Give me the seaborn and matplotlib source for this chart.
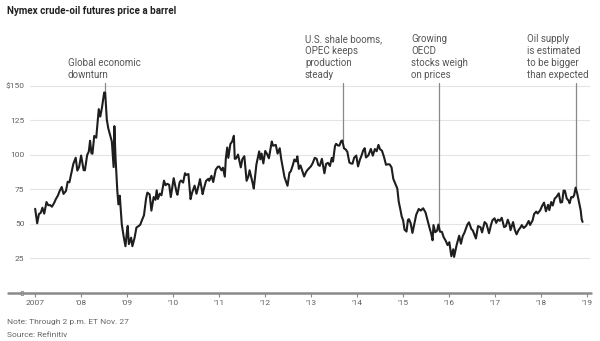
import matplotlib
matplotlib.use("Agg")
import matplotlib.pyplot as plt
from matplotlib.lines import Line2D
import seaborn as sns
import pandas as pd

# ---------------- data ----------------
dates = [
    "2007-01-02", "2007-01-18", "2007-02-01", "2007-02-15", "2007-03-01", "2007-03-15", "2007-04-02", "2007-04-16",
    "2007-05-01", "2007-05-15", "2007-06-01", "2007-06-15", "2007-07-02", "2007-07-16", "2007-08-01", "2007-08-15",
    "2007-09-04", "2007-09-17", "2007-10-01", "2007-10-15", "2007-11-01", "2007-11-20", "2007-12-03", "2007-12-17",
    "2008-01-02", "2008-01-22", "2008-02-01", "2008-02-19", "2008-03-03", "2008-03-13", "2008-03-24", "2008-04-01",
    "2008-04-15", "2008-05-01", "2008-05-21", "2008-06-02", "2008-06-16", "2008-07-03", "2008-07-11", "2008-07-24",
    "2008-08-05", "2008-08-19", "2008-09-02", "2008-09-16", "2008-09-22", "2008-10-01", "2008-10-15", "2008-10-24",
    "2008-11-04", "2008-11-20", "2008-12-05", "2008-12-19", "2008-12-31",
    "2009-01-06", "2009-01-15", "2009-02-02", "2009-02-12", "2009-03-02", "2009-03-16", "2009-04-01", "2009-04-15",
    "2009-05-01", "2009-05-15", "2009-06-01", "2009-06-11", "2009-06-29", "2009-07-13", "2009-07-31", "2009-08-14",
    "2009-08-24", "2009-09-02", "2009-09-18", "2009-10-01", "2009-10-21", "2009-11-02", "2009-11-16", "2009-12-01",
    "2009-12-14", "2009-12-31",
    "2010-01-06", "2010-01-29", "2010-02-05", "2010-02-22", "2010-03-05", "2010-03-22", "2010-04-06", "2010-04-15",
    "2010-05-03", "2010-05-20", "2010-06-01", "2010-06-21", "2010-07-06", "2010-07-26", "2010-08-03", "2010-08-24",
    "2010-09-01", "2010-09-20", "2010-10-08", "2010-10-15", "2010-11-02", "2010-11-16", "2010-12-06", "2010-12-23",
    "2011-01-03", "2011-01-20", "2011-02-01", "2011-02-16", "2011-02-24", "2011-03-07", "2011-03-16", "2011-04-01",
    "2011-04-15", "2011-04-29", "2011-05-06", "2011-05-16", "2011-06-01", "2011-06-23", "2011-07-05", "2011-07-21",
    "2011-08-08", "2011-08-22", "2011-09-01", "2011-09-26", "2011-10-04", "2011-10-25", "2011-11-16", "2011-11-25",
    "2011-12-05", "2011-12-19",
    "2012-01-03", "2012-01-18", "2012-02-01", "2012-02-24", "2012-03-05", "2012-03-27", "2012-04-10", "2012-04-27",
    "2012-05-09", "2012-05-23", "2012-06-04", "2012-06-28", "2012-07-13", "2012-07-24", "2012-08-10", "2012-08-21",
    "2012-09-04", "2012-09-14", "2012-09-26", "2012-10-09", "2012-11-07", "2012-11-21", "2012-12-03", "2012-12-31",
    "2013-01-14", "2013-01-30", "2013-02-14", "2013-02-27", "2013-03-11", "2013-03-28", "2013-04-17", "2013-04-30",
    "2013-05-15", "2013-05-31", "2013-06-14", "2013-06-24", "2013-07-10", "2013-07-19", "2013-08-02", "2013-08-14",
    "2013-08-28", "2013-09-06", "2013-09-20", "2013-10-02", "2013-10-16", "2013-11-01", "2013-11-14", "2013-11-26",
    "2013-12-09", "2013-12-26",
    "2014-01-09", "2014-01-24", "2014-02-07", "2014-02-19", "2014-03-03", "2014-03-13", "2014-04-01", "2014-04-21",
    "2014-05-06", "2014-05-23", "2014-06-06", "2014-06-20", "2014-07-03", "2014-07-18", "2014-08-04", "2014-08-19",
    "2014-09-05", "2014-09-18", "2014-10-02", "2014-10-16", "2014-11-03", "2014-11-17", "2014-11-28", "2014-12-10",
    "2014-12-22",
    "2015-01-02", "2015-01-13", "2015-01-29", "2015-02-09", "2015-02-17", "2015-03-03", "2015-03-17", "2015-04-01",
    "2015-04-16", "2015-05-06", "2015-05-22", "2015-06-10", "2015-06-29", "2015-07-14", "2015-07-31", "2015-08-12",
    "2015-08-24", "2015-08-31", "2015-09-14", "2015-09-29", "2015-10-09", "2015-10-22", "2015-11-06", "2015-11-20",
    "2015-12-07", "2015-12-21",
    "2016-01-04", "2016-01-20", "2016-02-04", "2016-02-11", "2016-03-01", "2016-03-22", "2016-04-05", "2016-04-19",
    "2016-05-03", "2016-05-26", "2016-06-08", "2016-06-27", "2016-07-08", "2016-08-02", "2016-08-19", "2016-09-08",
    "2016-09-20", "2016-10-10", "2016-10-25", "2016-11-14", "2016-11-30", "2016-12-12", "2016-12-28",
    "2017-01-10", "2017-01-24", "2017-02-08", "2017-02-23", "2017-03-14", "2017-03-28", "2017-04-12", "2017-04-26",
    "2017-05-04", "2017-05-24", "2017-06-07", "2017-06-21", "2017-07-06", "2017-07-25", "2017-08-01", "2017-08-17",
    "2017-09-05", "2017-09-25", "2017-10-06", "2017-10-26", "2017-11-07", "2017-11-24", "2017-12-05", "2017-12-26",
    "2018-01-09", "2018-01-25", "2018-02-09", "2018-02-26", "2018-03-08", "2018-03-23", "2018-04-04", "2018-04-19",
    "2018-05-04", "2018-05-22", "2018-06-05", "2018-06-18", "2018-06-29", "2018-07-10", "2018-07-24", "2018-08-08",
    "2018-08-16", "2018-08-29", "2018-09-11", "2018-09-21", "2018-10-03", "2018-10-16", "2018-10-31", "2018-11-12",
    "2018-11-20", "2018-11-27",
]
prices = [
    61.0, 50.5, 57.3, 58.0, 61.8, 57.5, 65.9, 63.6,
    63.7, 62.5, 65.1, 68.0, 70.7, 74.0, 76.8, 71.8,
    74.0, 80.6, 80.2, 86.1, 93.5, 98.0, 88.7, 91.3,
    99.6, 89.0, 88.9, 100.0, 102.5, 110.3, 101.2, 100.9,
    113.8, 112.5, 133.2, 127.8, 134.6, 145.3, 145.1, 125.5,
    119.2, 114.5, 109.7, 91.2, 120.9, 98.5, 74.5, 64.2,
    70.5, 49.6, 40.8, 33.9, 44.6,
    48.6, 35.4, 40.1, 33.9, 40.2, 47.4, 48.4, 49.4,
    53.2, 56.3, 68.6, 72.7, 71.5, 59.7, 69.5, 67.5,
    74.4, 68.1, 72.0, 70.8, 81.4, 78.1, 79.1, 78.4,
    69.5, 79.4,
    83.2, 72.9, 71.2, 80.2, 81.5, 80.0, 86.8, 85.5,
    86.2, 68.0, 72.6, 77.8, 71.9, 79.0, 82.5, 71.6,
    75.0, 81.2, 82.7, 81.3, 84.9, 80.4, 89.4, 91.5,
    91.6, 88.9, 90.8, 84.3, 97.3, 105.4, 97.9, 107.9,
    109.7, 113.9, 97.2, 97.4, 100.3, 91.0, 96.9, 99.1,
    81.3, 84.4, 88.9, 79.2, 75.7, 93.2, 102.6, 96.8,
    101.0, 93.9,
    102.9, 100.6, 97.6, 109.8, 106.7, 107.3, 101.0, 104.9,
    97.0, 89.9, 83.9, 77.7, 87.1, 88.2, 92.9, 96.7,
    95.3, 99.0, 89.9, 92.4, 84.4, 87.4, 89.1, 91.8,
    94.1, 97.9, 97.3, 92.8, 92.1, 97.2, 86.7, 93.5,
    94.3, 92.0, 97.9, 95.2, 106.5, 108.1, 106.9, 106.8,
    110.1, 110.5, 104.7, 104.1, 102.3, 94.6, 93.8, 93.7,
    98.0, 99.6,
    91.7, 96.6, 99.9, 103.3, 104.9, 98.2, 99.7, 104.4,
    99.5, 104.3, 102.7, 107.3, 104.1, 103.1, 98.3, 92.9,
    93.3, 93.1, 91.0, 82.7, 78.8, 75.6, 66.2, 61.0,
    55.3,
    52.7, 45.9, 44.5, 52.9, 53.5, 50.5, 43.5, 50.1,
    56.7, 60.9, 59.7, 61.4, 58.3, 53.0, 47.1, 43.3,
    38.2, 49.2, 44.0, 45.2, 49.6, 44.4, 44.3, 40.4,
    37.7, 34.7,
    36.8, 26.6, 31.7, 26.2, 34.4, 41.5, 35.7, 41.1,
    43.7, 49.5, 51.2, 46.3, 45.4, 39.5, 48.5, 47.6,
    43.9, 51.4, 50.0, 43.3, 49.4, 52.8, 54.1,
    50.8, 53.2, 52.3, 54.5, 47.7, 48.4, 53.1, 49.6,
    45.5, 51.4, 45.7, 42.5, 45.5, 47.9, 49.2, 47.1,
    48.7, 52.2, 49.3, 52.6, 57.2, 59.0, 57.6, 60.0,
    63.0, 65.5, 59.2, 63.9, 60.1, 65.9, 63.4, 68.3,
    69.7, 72.2, 65.5, 65.9, 74.2, 74.1, 68.5, 66.9,
    65.0, 69.5, 69.3, 70.8, 76.4, 71.9, 65.3, 59.9,
    53.4, 51.5,
]

y_ticks = [0, 25, 50, 75, 100, 125, 150]
y_labels = ["0", "25", "50", "75", "100", "125", "$150"]
x_years = list(range(2007, 2020))
x_labels = ["2007", "’08", "’09", "’10", "’11", "’12", "’13", "’14", "’15", "’16", "’17", "’18", "’19"]

ann_dates = ["2008-07-09", "2013-09-12", "2015-10-12", "2018-10-03"]
ann_values = [145.0, 110.0, 47.0, 76.4]
ann_texts = [
    "Global economic\ndownturn",
    "U.S. shale booms,\nOPEC keeps\nproduction\nsteady",
    "Growing\nOECD\nstocks weigh\non prices",
    "Oil supply\nis estimated\nto be bigger\nthan expected",
]

title = "Nymex crude-oil futures price a barrel"
note = "Note: Through 2 p.m. ET Nov. 27"
source = "Source: Refinitiv"

# ---------------- figure ----------------
sns.set_theme(style="white")
plt.rcParams["font.family"] = ["Roboto", "DejaVu Sans"]

W, H = 600, 341
fig = plt.figure(figsize=(6.0, 3.41), dpi=100)

def fx(px):
    return px / W

def fy(py):
    return 1 - py / H

y0_px, top_px = 293.0, 83.2
ax = fig.add_axes([fx(30), fy(y0_px), fx(590) - fx(30), (y0_px - top_px) / H])

df = pd.DataFrame({"date": pd.to_datetime(dates), "price": prices})
sns.lineplot(data=df, x="date", y="price", ax=ax, color="#1e1e1e", linewidth=1.5)

ax.set_ylim(0, 152)
ax.set_xlim(pd.Timestamp("2006-11-22"), pd.Timestamp("2019-01-25"))

for s in ax.spines.values():
    s.set_visible(False)

ax.set_yticks(y_ticks)
ax.set_yticklabels(y_labels)
ax.set_xticks([pd.Timestamp(f"{y}-01-01") for y in x_years])
ax.set_xticklabels(x_labels)
ax.tick_params(axis="y", length=0, pad=4, labelsize=6, labelcolor="#606060")
ax.tick_params(axis="x", length=3, width=0.8, color="#888888", direction="out",
               pad=2, labelsize=6, labelcolor="#606060", bottom=True)
ax.set_xlabel("")
ax.set_ylabel("")
ax.grid(False)
for v in y_ticks[1:]:
    ax.axhline(v, color="#e4e4e4", linewidth=0.8, zorder=0)

# bottom axis line extending left
fig.add_artist(Line2D([fx(8), fx(591)], [fy(y0_px), fy(y0_px)], color="#8a8a8a", linewidth=1.8))

# annotation leader lines
top_val = (y0_px - 83) / ((y0_px - top_px) / 152)
for d, v in zip(ann_dates, ann_values):
    ax.plot([pd.Timestamp(d), pd.Timestamp(d)], [v, top_val], color="#888888",
            linewidth=0.9, clip_on=False, zorder=1)

ann_pos = [(68, 78), (305, 78), (411, 78), (527, 78)]
for (px, py), t in zip(ann_pos, ann_texts):
    fig.text(fx(px), fy(py), t, ha="left", va="baseline", fontsize=7,
             color="#555555", linespacing=1.25)

fig.text(fx(7), fy(14), title, ha="left", va="baseline", fontsize=7.1,
         fontweight="bold", color="#222222")
fig.text(fx(7), fy(324), note, ha="left", va="baseline", fontsize=6, color="#666666")
fig.text(fx(7), fy(337), source, ha="left", va="baseline", fontsize=6, color="#666666")

fig.savefig("out.png", dpi=100)
